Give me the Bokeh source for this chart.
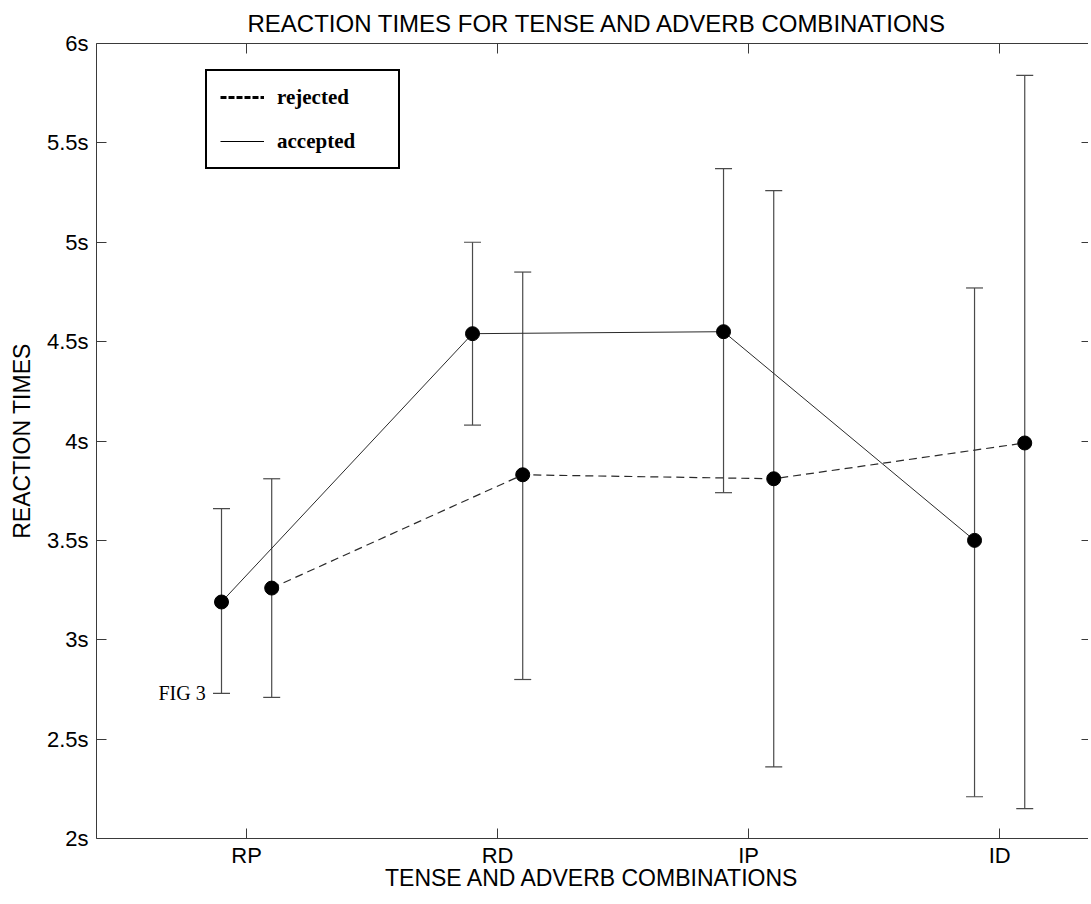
from bokeh.plotting import figure
from bokeh.models import (FixedTicker, Whisker, TeeHead, ColumnDataSource, Legend,
                          LegendItem, LinearAxis, Label, Range1d)
from bokeh.embed import file_html
from bokeh.resources import INLINE

# ---------------- data ----------------
title_text = "REACTION TIMES FOR TENSE AND ADVERB COMBINATIONS"
categories = ["RP", "RD", "IP", "ID"]
cat_pos = [1, 2, 3, 4]
y_ticks = [2, 2.5, 3, 3.5, 4, 4.5, 5, 5.5, 6]
y_tick_labels = ["2s", "2.5s", "3s", "3.5s", "4s", "4.5s", "5s", "5.5s", "6s"]

accepted_mean = [3.19, 4.54, 4.55, 3.50]
accepted_upper = [3.66, 5.00, 5.37, 4.77]
accepted_lower = [2.73, 4.08, 3.74, 2.21]

rejected_mean = [3.26, 3.83, 3.81, 3.99]
rejected_upper = [3.81, 4.85, 5.26, 5.84]
rejected_lower = [2.71, 2.80, 2.36, 2.15]

# ---------------- figure ----------------
FONT = "Liberation Sans"
AXIS_COLOR = "#3a3a3a"
NAN = float("nan")

p = figure(frame_width=992, frame_height=795,
           x_range=Range1d(0.402, 4.354), y_range=Range1d(2, 6),
           output_backend="svg", toolbar_location=None,
           min_border_left=96, min_border_right=0, min_border_top=43,
           min_border_bottom=0, title=title_text)
p.outline_line_color = None
p.xgrid.visible = False
p.ygrid.visible = False
p.background_fill_color = "white"

p.title.text_font = FONT
p.title.text_font_size = "24px"
p.title.text_font_style = "normal"
p.title.text_color = "black"
p.title.align = "left"
p.title.offset = 151
p.title.standoff = 14

# bottom axis
xa = p.xaxis[0]
xa.ticker = FixedTicker(ticks=cat_pos)
xa.major_label_overrides = dict(zip(cat_pos, categories))
xa.axis_label = "TENSE AND ADVERB COMBINATIONS"
for ax in (xa, p.yaxis[0]):
    ax.axis_label_text_font = FONT
    ax.axis_label_text_font_size = "23px"
    ax.axis_label_text_font_style = "normal"
    ax.axis_label_text_color = "black"
    ax.major_label_text_font = FONT
    ax.major_label_text_font_size = "22px"
    ax.major_label_text_color = "black"
    ax.major_tick_in = 10
    ax.major_tick_out = 0
    ax.minor_tick_line_color = None
    ax.axis_line_color = AXIS_COLOR
    ax.major_tick_line_color = AXIS_COLOR
xa.major_label_standoff = 4
xa.axis_label_standoff = -6

ya = p.yaxis[0]
ya.ticker = FixedTicker(ticks=y_ticks)
ya.major_label_overrides = dict(zip(y_ticks, y_tick_labels))
ya.axis_label = "REACTION TIMES"
ya.major_label_standoff = 8
ya.axis_label_standoff = 9

# top axis (frame line with ticks)
top_ax = LinearAxis(ticker=FixedTicker(ticks=cat_pos), major_tick_in=10, major_tick_out=0,
                    major_label_text_font_size="0px", major_label_standoff=0,
                    minor_tick_line_color=None, axis_line_color=AXIS_COLOR,
                    major_tick_line_color=AXIS_COLOR)
p.add_layout(top_ax, "above")

# right axis (ticks only; the frame edge lies beyond the picture)
right_ax = LinearAxis(ticker=FixedTicker(ticks=y_ticks), major_tick_in=7, major_tick_out=0,
                      major_label_text_font_size="0px", major_label_standoff=0,
                      minor_tick_line_color=None, axis_line_color=None,
                      major_tick_line_color=AXIS_COLOR)
p.add_layout(right_ax, "right")

# ---------------- series ----------------
acc_x = [c - 0.1 for c in cat_pos]
rej_x = [c + 0.1 for c in cat_pos]

acc_src = ColumnDataSource(dict(x=acc_x, y=accepted_mean, upper=accepted_upper, lower=accepted_lower))
rej_src = ColumnDataSource(dict(x=rej_x, y=rejected_mean, upper=rejected_upper, lower=rejected_lower))

ERR_COLOR = "#4a4a4a"
for src in (acc_src, rej_src):
    w = Whisker(base="x", upper="upper", lower="lower", source=src, dimension="height",
                line_color=ERR_COLOR, line_width=1.2,
                upper_head=TeeHead(size=17, line_color=ERR_COLOR, line_width=1.2),
                lower_head=TeeHead(size=17, line_color=ERR_COLOR, line_width=1.2))
    p.add_layout(w)

p.line("x", "y", source=acc_src, line_color="#2a2a2a", line_width=1)
p.line("x", "y", source=rej_src, line_color="#2a2a2a", line_width=1.2, line_dash="8 5")
p.scatter("x", "y", source=acc_src, size=14, marker="circle", fill_color="black", line_color="black")
p.scatter("x", "y", source=rej_src, size=14, marker="circle", fill_color="black", line_color="black")

# legend samples (a single NaN point: nothing is drawn in the plot area)
leg_rej = p.line(x=[NAN], y=[NAN], line_color="black", line_width=3, line_dash="6 2")
leg_acc = p.line(x=[NAN], y=[NAN], line_color="black", line_width=1)
legend = Legend(items=[LegendItem(label="rejected", renderers=[leg_rej]),
                       LegendItem(label="accepted", renderers=[leg_acc])],
                location=(109, 669), padding=13, spacing=18, margin=0,
                label_height=26, glyph_height=26, glyph_width=44, label_standoff=13,
                label_width=108,
                label_text_font="Liberation Serif", label_text_font_style="bold",
                label_text_font_size="21px", label_text_color="black",
                border_line_color="black", border_line_width=2, border_line_alpha=1,
                background_fill_color="white", background_fill_alpha=1)
p.add_layout(legend)

p.add_layout(Label(x=0.837, y=2.73, text="FIG 3", text_font="Liberation Serif",
                   text_font_size="20px", text_align="right", text_baseline="alphabetic",
                   text_color="black"))

open("out.html", "w").write(file_html(p, INLINE))
